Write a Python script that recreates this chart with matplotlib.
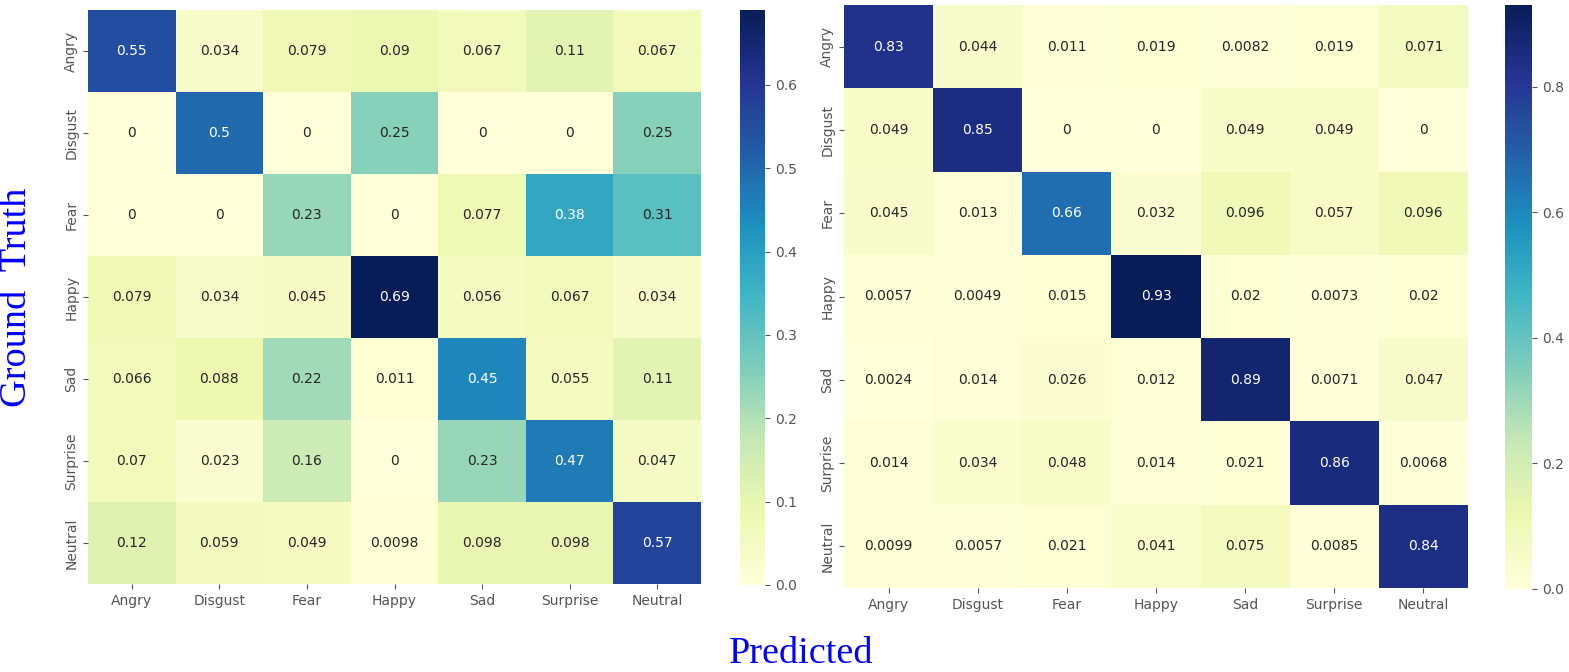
import numpy as np
import matplotlib
matplotlib.use("Agg")
import matplotlib.pyplot as plt
import seaborn as sns

# class labels
labels = ["Angry", "Disgust", "Fear", "Happy", "Sad", "Surprise", "Neutral"]

# left confusion matrix (rows = ground truth, cols = predicted)
left_cm = np.array([
    [0.55, 0.034, 0.079, 0.09, 0.067, 0.11, 0.067],
    [0, 0.5, 0, 0.25, 0, 0, 0.25],
    [0, 0, 0.23, 0, 0.077, 0.38, 0.31],
    [0.079, 0.034, 0.045, 0.69, 0.056, 0.067, 0.034],
    [0.066, 0.088, 0.22, 0.011, 0.45, 0.055, 0.11],
    [0.07, 0.023, 0.16, 0, 0.23, 0.47, 0.047],
    [0.12, 0.059, 0.049, 0.0098, 0.098, 0.098, 0.57],
])

# right confusion matrix
right_cm = np.array([
    [0.83, 0.044, 0.011, 0.019, 0.0082, 0.019, 0.071],
    [0.049, 0.85, 0, 0, 0.049, 0.049, 0],
    [0.045, 0.013, 0.66, 0.032, 0.096, 0.057, 0.096],
    [0.0057, 0.0049, 0.015, 0.93, 0.02, 0.0073, 0.02],
    [0.0024, 0.014, 0.026, 0.012, 0.89, 0.0071, 0.047],
    [0.014, 0.034, 0.048, 0.014, 0.021, 0.86, 0.0068],
    [0.0099, 0.0057, 0.021, 0.041, 0.075, 0.0085, 0.84],
])

W, H = 1569, 672
fig = plt.figure(figsize=(W / 100, H / 100), dpi=100)

def box(x0, y0, x1, y1):
    # pixel box -> figure fraction
    return [x0 / W, (H - y1) / H, (x1 - x0) / W, (y1 - y0) / H]

ax1 = fig.add_axes(box(88, 10, 701, 584))
cax1 = fig.add_axes(box(740, 10, 765, 585))
ax2 = fig.add_axes(box(844, 5, 1468, 588))
cax2 = fig.add_axes(box(1505, 5, 1532, 589))

tick_color = "#555555"
for ax, cax, cm, step in [(ax1, cax1, left_cm, 0.1), (ax2, cax2, right_cm, 0.2)]:
    sns.heatmap(cm, ax=ax, cbar_ax=cax, cmap="YlGnBu", annot=True, fmt="g",
                vmin=0, vmax=cm.max(), xticklabels=labels, yticklabels=labels,
                annot_kws={"size": 10})
    ax.tick_params(axis="both", colors=tick_color, labelsize=10, length=3.5)
    ax.set_yticklabels(labels, rotation=90, va="center")
    ax.set_xticklabels(labels, rotation=0)
    cax.set_yticks(np.arange(0, cm.max() + 1e-9, step))
    cax.yaxis.set_major_formatter(matplotlib.ticker.FormatStrFormatter("%.1f"))
    cax.tick_params(colors=tick_color, labelsize=10, length=3.5)

fig.text(801 / W, 1 / H, "Predicted", color="blue", family="Liberation Serif",
         fontsize=27.5, ha="center", va="bottom")
fig.text(17 / W, (H - 297) / H, "Ground  Truth", color="blue", family="Liberation Serif",
         fontsize=27.5, ha="center", va="center", rotation=90)

fig.savefig("out.png", dpi=100)
